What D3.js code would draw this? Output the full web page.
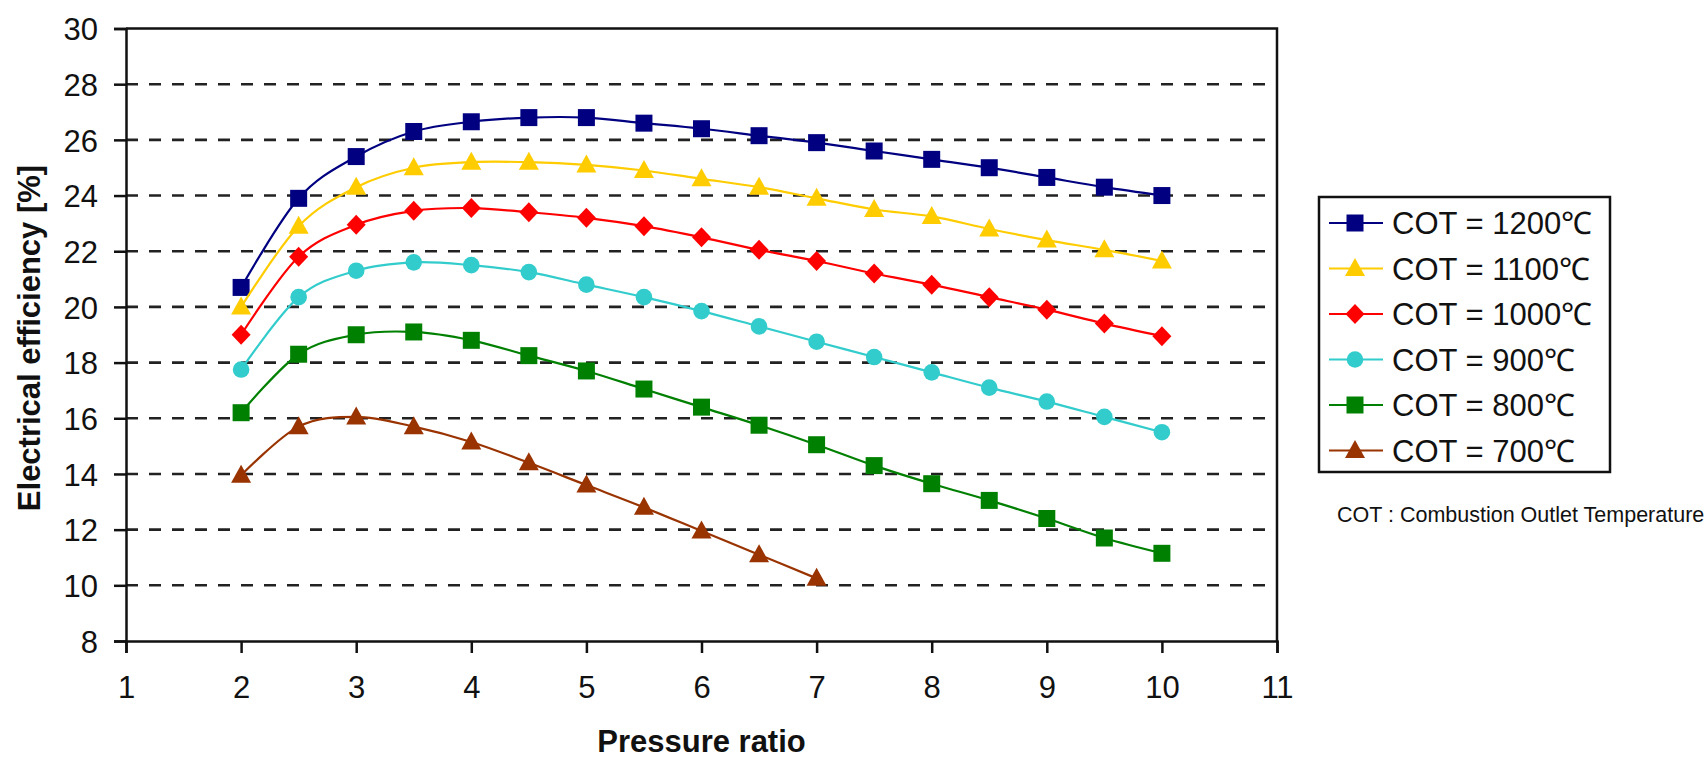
<!DOCTYPE html>
<html>
<head>
<meta charset="utf-8">
<script src="https://cdn.jsdelivr.net/npm/d3@7"></script>
<style>
  body { margin: 0; background: #fff; }
  svg { display: block; }
  .tick text { font-family: "Liberation Sans", Arial, sans-serif; fill: #111; }
</style>
</head>
<body>
<script>
// pressure ratio values shared by the series
const ratios = [2, 2.5, 3, 3.5, 4, 4.5, 5, 5.5, 6, 6.5, 7, 7.5, 8, 8.5, 9, 9.5, 10];

// electrical efficiency [%] per combustion outlet temperature
const cot1200 = [20.7, 23.9, 25.4, 26.3, 26.65, 26.8, 26.8, 26.6, 26.4, 26.15, 25.9, 25.6, 25.3, 25.0, 24.65, 24.3, 24.0];
const cot1100 = [20.0, 22.9, 24.3, 25.0, 25.2, 25.2, 25.1, 24.9, 24.6, 24.3, 23.9, 23.5, 23.25, 22.8, 22.4, 22.05, 21.65];
const cot1000 = [19.0, 21.8, 22.95, 23.45, 23.55, 23.4, 23.2, 22.9, 22.5, 22.05, 21.65, 21.2, 20.8, 20.35, 19.9, 19.4, 18.95];
const cot900 = [17.75, 20.35, 21.3, 21.6, 21.5, 21.25, 20.8, 20.35, 19.85, 19.3, 18.75, 18.2, 17.65, 17.1, 16.6, 16.05, 15.5];
const cot800 = [16.2, 18.3, 19.0, 19.1, 18.8, 18.25, 17.7, 17.05, 16.4, 15.75, 15.05, 14.3, 13.65, 13.05, 12.4, 11.7, 11.15];
const cot700 = [13.95, 15.7, 16.05, 15.7, 15.15, 14.4, 13.6, 12.8, 11.95, 11.1, 10.25];

const labels = ['COT = 1200\u2103', 'COT = 1100\u2103', 'COT = 1000\u2103', 'COT = 900\u2103', 'COT = 800\u2103', 'COT = 700\u2103'];
const xTicks = [1, 2, 3, 4, 5, 6, 7, 8, 9, 10, 11];
const yTicks = [8, 10, 12, 14, 16, 18, 20, 22, 24, 26, 28, 30];

const W = 1708, H = 758;
const margin = { top: 28.5, right: 431, bottom: 117, left: 126 };
const iw = W - margin.left - margin.right;
const ih = H - margin.top - margin.bottom;

const series = [
  { name: labels[0], values: cot1200, color: '#000080', shape: 'square' },
  { name: labels[1], values: cot1100, color: '#ffcc00', shape: 'triangle' },
  { name: labels[2], values: cot1000, color: '#ff0000', shape: 'diamond' },
  { name: labels[3], values: cot900, color: '#33cccc', shape: 'circle' },
  { name: labels[4], values: cot800, color: '#008000', shape: 'square' },
  { name: labels[5], values: cot700, color: '#993300', shape: 'triangle' }
];

const x = d3.scaleLinear().domain([1, 11]).range([0, iw]);
const y = d3.scaleLinear().domain([8, 30]).range([ih, 0]);

const svg = d3.select('body').append('svg').attr('width', W).attr('height', H);
const g = svg.append('g').attr('transform', `translate(${margin.left},${margin.top})`);

// dashed grid
g.append('g')
  .selectAll('line')
  .data(yTicks.filter(t => t > 8 && t < 30))
  .join('line')
  .attr('x1', 0).attr('x2', iw)
  .attr('y1', d => y(d)).attr('y2', d => y(d))
  .attr('stroke', '#222').attr('stroke-width', 2.6)
  .attr('stroke-dasharray', '12 11');

// plot border (top + right)
g.append('path')
  .attr('d', `M0,0H${iw}V${ih}`)
  .attr('fill', 'none').attr('stroke', '#111').attr('stroke-width', 2.5);

const yAxis = g.append('g')
  .call(d3.axisLeft(y).tickValues(yTicks).tickSize(12).tickPadding(16).tickFormat(d3.format('d')));
const xAxis = g.append('g')
  .attr('transform', `translate(0,${ih})`)
  .call(d3.axisBottom(x).tickValues(xTicks).tickSize(12).tickPadding(22).tickFormat(d3.format('d')));

[yAxis, xAxis].forEach(a => {
  a.select('.domain').attr('stroke', '#111').attr('stroke-width', 2.5);
  a.selectAll('.tick line').attr('stroke', '#111').attr('stroke-width', 2.5);
  a.selectAll('.tick text').attr('font-size', 31);
});
yAxis.selectAll('.tick text').attr('dy', '0.36em');
xAxis.selectAll('.tick text').attr('dy', '0.75em');

// marker shapes
function marker(shape) {
  if (shape === 'square') return 'M-8.5,-8.5H8.5V8.5H-8.5Z';
  if (shape === 'triangle') return 'M0,-10.5L10,7.5H-10Z';
  if (shape === 'diamond') return 'M0,-10L9.5,0L0,10L-9.5,0Z';
  return d3.symbol(d3.symbolCircle, Math.PI * 8.3 * 8.3)();
}

const line = d3.line()
  .x((d, i) => x(ratios[i]))
  .y(d => y(d))
  .curve(d3.curveCardinal.tension(0));

const sg = g.selectAll('.series').data(series).join('g').attr('class', 'series');
sg.append('path')
  .attr('d', d => line(d.values))
  .attr('fill', 'none')
  .attr('stroke', d => d.color)
  .attr('stroke-width', 2.2);
sg.each(function(s) {
  d3.select(this).selectAll('path.m')
    .data(s.values)
    .join('path')
    .attr('class', 'm')
    .attr('transform', (d, i) => `translate(${x(ratios[i])},${y(d)})`)
    .attr('d', marker(s.shape))
    .attr('fill', s.color);
});

// axis titles
svg.append('text')
  .attr('x', margin.left + iw / 2).attr('y', 752)
  .attr('text-anchor', 'middle')
  .attr('font-family', '"Liberation Sans", Arial, sans-serif')
  .attr('font-weight', 'bold').attr('font-size', 31).attr('fill', '#111')
  .text('Pressure ratio');
svg.append('text')
  .attr('transform', `translate(40,338) rotate(-90)`)
  .attr('text-anchor', 'middle')
  .attr('font-family', '"Liberation Sans", Arial, sans-serif')
  .attr('font-weight', 'bold').attr('font-size', 31).attr('fill', '#111')
  .text('Electrical efficiency [%]');

// legend
const lg = svg.append('g').attr('transform', 'translate(1319,197)');
lg.append('rect')
  .attr('width', 291).attr('height', 275)
  .attr('fill', '#fff').attr('stroke', '#111').attr('stroke-width', 2.5);
const li = lg.selectAll('.li').data(series).join('g')
  .attr('class', 'li')
  .attr('transform', (d, i) => `translate(0,${26 + i * 45.5})`);
li.append('line')
  .attr('x1', 10).attr('x2', 64)
  .attr('stroke', d => d.color).attr('stroke-width', 2.2);
li.append('path')
  .attr('transform', 'translate(36,0)')
  .attr('d', d => marker(d.shape))
  .attr('fill', d => d.color);
li.append('text')
  .attr('x', 73).attr('dy', '0.36em')
  .attr('font-family', '"Liberation Sans", Arial, sans-serif')
  .attr('font-size', 31).attr('fill', '#111')
  .text(d => d.name);

svg.append('text')
  .attr('x', 1337).attr('y', 522)
  .attr('font-family', '"Liberation Sans", Arial, sans-serif')
  .attr('font-size', 21.5).attr('fill', '#111')
  .text('COT : Combustion Outlet Temperature');
</script>
</body>
</html>
